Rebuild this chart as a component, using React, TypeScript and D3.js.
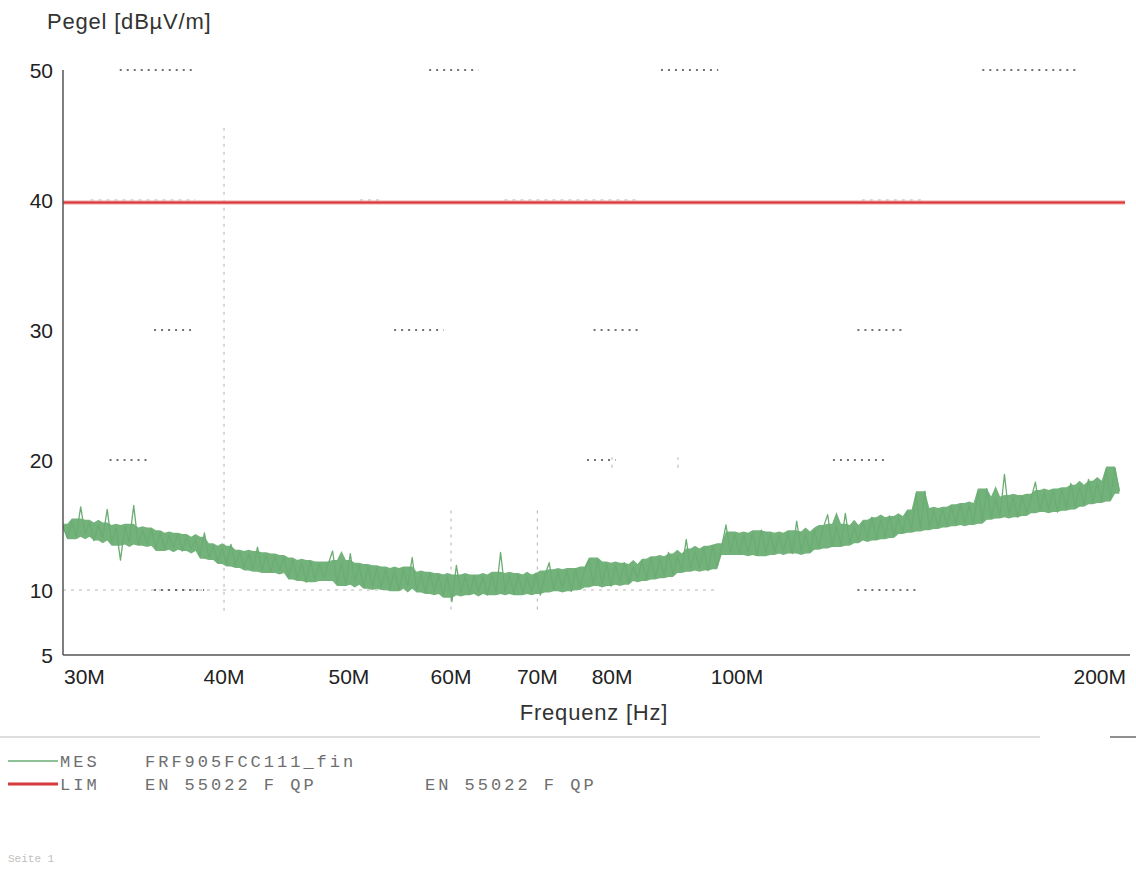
import React from "react";
import * as d3 from "d3";

// Y axis ticks (dBµV/m) and X axis ticks (Hz)
const yTicks = [5, 10, 20, 30, 40, 50];
const xTicks = [30e6, 40e6, 50e6, 60e6, 70e6, 80e6, 100e6, 200e6];
const xTickLabels = ["30M", "40M", "50M", "60M", "70M", "80M", "100M", "200M"];

// Sweep range of the receiver scan
const sweepStart = 30e6;
const sweepStop = 198e6;

// Measured level MES (dBµV/m), one value per sweep step, log-spaced
const mesValues = [
  14.9, 14.0, 15.3, 14.1, 16.4, 14.3, 15.2, 13.8, 15.0, 14.0,
  16.2, 13.6, 14.8, 12.3, 14.9, 13.7, 16.5, 13.5, 14.6, 13.6,
  14.7, 13.2, 14.4, 13.1, 14.2, 13.3, 14.3, 13.0, 14.1, 13.2,
  13.9, 12.6, 14.4, 12.5, 13.4, 12.2, 13.2, 12.0, 13.5, 11.9,
  12.9, 11.7, 12.8, 11.6, 13.3, 11.5, 12.7, 11.4, 12.6, 11.5,
  12.5, 11.0, 12.3, 10.9, 12.1, 10.6, 12.2, 10.8, 12.0, 10.9,
  12.0, 13.0, 10.5, 12.1, 10.4, 12.8, 10.6, 11.9, 10.2, 11.8,
  10.3, 11.7, 10.2, 11.6, 10.1, 11.5, 10.0, 11.6, 10.3, 12.5,
  10.0, 11.2, 9.8, 11.3, 9.9, 11.1, 9.6, 11.0, 9.1, 11.9,
  9.8, 11.0, 9.7, 11.1, 9.9, 11.0, 9.6, 11.2, 9.8, 12.9,
  9.9, 11.1, 9.7, 11.2, 9.8, 11.0, 9.9, 11.3, 9.6, 11.1,
  12.1, 10.0, 11.4, 10.1, 11.5, 9.9, 11.6, 10.2, 11.5, 12.3,
  10.4, 12.3, 10.5, 12.0, 10.3, 11.9, 10.6, 12.1, 10.5, 11.8,
  10.9, 12.2, 10.8, 12.5, 11.0, 12.4, 11.1, 12.9, 11.2, 12.6,
  11.5, 13.9, 11.6, 13.0, 11.7, 13.2, 11.5, 13.4, 11.8, 13.3,
  15.0, 12.9, 14.3, 12.8, 14.2, 12.9, 14.4, 12.7, 14.6, 12.8,
  14.3, 12.9, 14.2, 13.0, 14.4, 12.8, 15.3, 13.0, 14.3, 12.9,
  14.6, 13.3, 14.8, 15.8, 13.4, 14.9, 13.5, 15.9, 13.6, 14.8,
  13.8, 15.2, 14.0, 15.6, 13.9, 15.4, 14.1, 15.7, 14.2, 15.5,
  14.5, 16.0, 14.6, 17.4, 14.7, 17.6, 14.8, 16.1, 14.9, 16.2,
  15.0, 16.4, 15.1, 16.6, 15.2, 16.5, 15.1, 17.6, 15.3, 17.8,
  15.6, 17.0, 15.7, 18.9, 15.8, 17.1, 15.6, 17.2, 15.9, 17.0,
  18.3, 16.1, 17.5, 16.2, 17.6, 16.0, 17.7, 16.3, 18.2, 16.4,
  17.9, 16.6, 18.5, 16.8, 18.2, 16.9, 19.3, 17.0, 19.4, 17.6,
];

// Limit LIM: EN 55022 F QP (dBµV/m) over the whole band
const limFreqs = [30e6, 200e6];
const limValues = [39.8, 39.8];

// Dotted grid pieces that remain visible: [level, fromHz, toHz]
const hGridPieces: [number, number, number][] = [
  [50, 33.2e6, 38.0e6], [50, 57.7e6, 63.0e6], [50, 87.3e6, 96.7e6], [50, 155e6, 183.5e6],
  [30, 35.3e6, 38.0e6], [30, 54.2e6, 59.2e6], [30, 77.4e6, 83.8e6], [30, 124e6, 134.4e6],
  [20, 32.6e6, 35.0e6], [20, 76.5e6, 80.5e6], [20, 118.7e6, 130.9e6],
  [10, 35.3e6, 38.6e6], [10, 124e6, 137.6e6],
];
// Lighter dotted lines: [level, fromHz, toHz]
const hGridLight: [number, number, number][] = [
  [10, 30e6, 96e6], [40, 31.5e6, 38e6], [40, 51e6, 53e6], [40, 66e6, 84e6], [40, 125e6, 140e6],
];
// Vertical dotted lines: [freqHz, fromLevel, toLevel]
const vGrid: [number, number, number][] = [
  [40e6, 8.4, 45.8], [60e6, 8.5, 16.5], [70e6, 8.5, 16.5], [80e6, 19.4, 20.2], [90e6, 19.4, 20.2],
];

const W = 1136;
const H = 875;

export default function App() {
  const x = d3.scaleLog().domain([30e6, 200e6]).range([63, 1125]);
  const y = d3.scaleLinear().domain([5, 50]).range([655, 70]);

  // sweep step frequencies, evenly spaced on the log axis
  const n = mesValues.length;
  const freqs = mesValues.map((_, i) => sweepStart * Math.pow(sweepStop / sweepStart, i / (n - 1)));

  const mesLine = d3
    .line<number>()
    .x((_, i) => x(freqs[i]))
    .y((v) => y(v))(mesValues) as string;

  // ribbon covered by the trace: 2nd lowest / 2nd highest sample in a 5-step window,
  // so isolated spikes stay thin lines above and below it
  const win = (i: number) =>
    mesValues.slice(Math.max(0, i - 2), Math.min(n, i + 3)).slice().sort((a, b) => a - b);
  const bandLo = mesValues.map((_, i) => {
    const s = win(i);
    return s[Math.min(1, s.length - 1)];
  });
  const bandHi = mesValues.map((_, i) => {
    const s = win(i);
    return s[Math.max(0, s.length - 2)];
  });
  const mesBand = d3
    .area<number>()
    .x((_, i) => x(freqs[i]))
    .y0((_, i) => y(bandLo[i] - 0.2))
    .y1((_, i) => y(bandHi[i] + 0.2))(mesValues) as string;

  const limLine = d3
    .line<number>()
    .x((_, i) => x(limFreqs[i]))
    .y((v) => y(v))(limValues) as string;

  const sans = "'Liberation Sans', Arial, sans-serif";
  const mono = "'Liberation Mono', 'Courier New', monospace";
  const legendText = { fontFamily: mono, fontSize: 17, letterSpacing: 3, fill: "#6e6e6e" };

  return (
    <svg
      width={W}
      height={H}
      viewBox={`0 0 ${W} ${H}`}
      style={{ position: "absolute", left: 0, top: 0, background: "#fff" }}
    >
      {/* light dotted grid */}
      {hGridLight.map(([v, a, b], i) => (
        <line key={`hl${i}`} x1={x(a)} x2={x(b)} y1={y(v)} y2={y(v)}
          stroke="#b5b5b5" strokeWidth={1} strokeDasharray="3 5" />
      ))}
      {vGrid.map(([f, a, b], i) => (
        <line key={`vg${i}`} x1={x(f)} x2={x(f)} y1={y(a)} y2={y(b)}
          stroke="#b0b0b0" strokeWidth={1} strokeDasharray="3 5" />
      ))}
      {hGridPieces.map(([v, a, b], i) => (
        <line key={`hp${i}`} x1={x(a)} x2={x(b)} y1={y(v)} y2={y(v)}
          stroke="#444" strokeWidth={1.3} strokeDasharray="2 5" />
      ))}

      {/* limit line */}
      <path d={limLine} fill="none" stroke="#f2a0a0" strokeWidth={4} />
      <path d={limLine} fill="none" stroke="#d63a3c" strokeWidth={2} />

      {/* measured trace */}
      <path d={mesBand} fill="#74b27c" stroke="none" />
      <path d={mesLine} fill="none" stroke="#6aad72" strokeWidth={1.3} strokeLinejoin="round" />

      {/* axes */}
      <line x1={63} x2={63} y1={y(50)} y2={y(5)} stroke="#555" strokeWidth={1.5} />
      <line x1={63} x2={1130} y1={y(5)} y2={y(5)} stroke="#555" strokeWidth={1.5} />

      {yTicks.map((t) => (
        <text key={`yt${t}`} x={53} y={y(t)} dy="0.36em" textAnchor="end"
          fontFamily={sans} fontSize={21} fill="#222">
          {t}
        </text>
      ))}
      {xTicks.map((t, i) => (
        <text key={`xt${t}`} x={i === 0 ? 64 : i === xTicks.length - 1 ? 1126 : x(t)} y={684}
          textAnchor={i === 0 ? "start" : i === xTicks.length - 1 ? "end" : "middle"}
          fontFamily={sans} fontSize={21} fill="#222">
          {xTickLabels[i]}
        </text>
      ))}

      <text x={47} y={29} fontFamily={sans} fontSize={22} letterSpacing={0.8} fill="#333">Pegel [dBµV/m]</text>
      <text x={594} y={720} textAnchor="middle" fontFamily={sans} fontSize={22} letterSpacing={0.8} fill="#333">Frequenz [Hz]</text>

      {/* separator */}
      <line x1={0} x2={1040} y1={737} y2={737} stroke="#bbb" strokeWidth={1} />
      <line x1={1110} x2={1136} y1={737} y2={737} stroke="#444" strokeWidth={1.2} />

      {/* legend */}
      <line x1={8} x2={58} y1={761} y2={761} stroke="#6aae73" strokeWidth={1.5} />
      <text x={60} y={767} {...legendText}>MES</text>
      <text x={145} y={767} {...legendText}>FRF905FCC111_fin</text>
      <line x1={8} x2={58} y1={784} y2={784} stroke="#d63a3c" strokeWidth={3} />
      <text x={60} y={790} {...legendText}>LIM</text>
      <text x={145} y={790} {...legendText}>EN 55022 F QP</text>
      <text x={425} y={790} {...legendText}>EN 55022 F QP</text>

      <text x={8} y={862} fontFamily={mono} fontSize={11} fill="#c0c0c0">Seite 1</text>
    </svg>
  );
}
